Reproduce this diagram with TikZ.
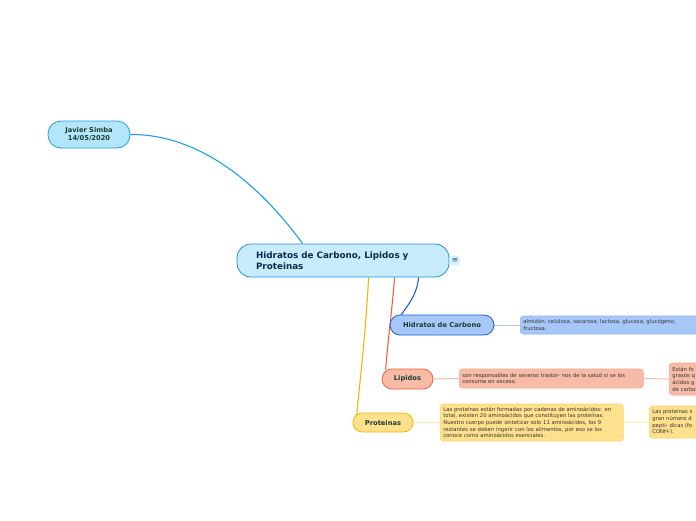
\documentclass[tikz,border=0pt]{standalone}
\usepackage{fontspec}
\setmainfont{DejaVu Sans}
\usepackage{xcolor}
\usetikzlibrary{positioning, calc, backgrounds}
\definecolor{rootfill}{HTML}{C8ECFC}
\definecolor{rootborder}{HTML}{1E8FD8}
\definecolor{roottext}{HTML}{0D2A4A}
\definecolor{jsfill}{HTML}{B3E5FC}
\definecolor{jsborder}{HTML}{1BA1E2}
\definecolor{hcfill}{HTML}{A7C7F9}
\definecolor{hcborder}{HTML}{1E5FD6}
\definecolor{hcsoft}{HTML}{8DB5F2}
\definecolor{lpfill}{HTML}{F8BBA7}
\definecolor{lpborder}{HTML}{F0623E}
\definecolor{lpsoft}{HTML}{F6A88F}
\definecolor{prfill}{HTML}{FFE08C}
\definecolor{prborder}{HTML}{F5B700}
\definecolor{prsoft}{HTML}{FCD46E}
\definecolor{labeltext}{HTML}{1B3D2F}
\definecolor{notetext}{HTML}{333333}
\definecolor{menufill}{HTML}{D6EEFB}
\definecolor{menutext}{HTML}{1A5C96}

\tikzset{
  topic/.style={line width=0.8pt, inner sep=0pt, align=center, text=labeltext,
                font=\fontsize{6.7}{8.5}\selectfont\bfseries},
  note/.style={line width=0.6pt, rounded corners=3pt, anchor=west, align=left,
               inner xsep=3pt, inner ysep=2.5pt, text=notetext,
               font=\fontsize{5.3}{6.7}\selectfont},
  link/.style={line width=1.1pt},
  notelink/.style={line width=1pt}
}

\begin{document}
\begin{tikzpicture}[x=1pt, y=-1pt]
  \useasboundingbox (0,0) rectangle (696,520);
  \clip (0,0) rectangle (696,520);

  % central topic
  \node[topic, fill=rootfill, draw=rootborder, rounded corners=14pt,
        minimum width=212pt, minimum height=33pt, text width=174pt, align=left,
        text=roottext, font=\fontsize{8.8}{11}\selectfont\bfseries] (root) at (343,260.5)
        {Hidratos de Carbono, Lipidos y\\Proteinas};
  \node[fill=menufill, rounded corners=1.5pt, inner sep=0pt, minimum size=9pt, text=menutext,
        font=\fontsize{7.5}{7.5}\selectfont] (menu) at (455,260.5) {≡};

  % main branches
  \node[topic, fill=jsfill, draw=jsborder, rounded corners=13pt,
        minimum width=82pt, minimum height=27pt] (js) at (89,134.5)
        {Javier Simba\\14/05/2020};
  \node[topic, fill=hcfill, draw=hcborder, rounded corners=10pt,
        minimum width=104pt, minimum height=20pt] (hc) at (442,325) {Hidratos de Carbono};
  \node[topic, fill=lpfill, draw=lpborder, rounded corners=10pt,
        minimum width=51pt, minimum height=20pt] (lp) at (407.5,379) {Lipidos};
  \node[topic, fill=prfill, draw=prborder, rounded corners=9.5pt,
        minimum width=60pt, minimum height=19pt] (pr) at (383,422.5) {Proteinas};

  % notes
  \node[note, fill=hcfill, draw=hcsoft, text width=174pt, minimum height=18pt] (hcnote) at (520,325)
        {almidón, celulosa, sacarosa, lactosa, glucosa, glucógeno,\\fructosa.};
  \node[note, fill=lpfill, draw=lpsoft, text width=178pt, minimum height=19pt] (lpnote) at (459,378.5)
        {son responsables de severos trastor- nos de la salud si se los\\consume en exceso.};
  \node[note, fill=lpfill, draw=lpsoft, text width=60pt, minimum height=32pt] (lpmore) at (669,379)
        {Están fo\\grasos q\\ácidos g\\de carbo};
  \node[note, fill=prfill, draw=prsoft, text width=177pt, minimum height=37pt] (prnote) at (440,422.5)
        {Las proteínas están formadas por cadenas de aminoácidos: en\\
         total, existen 20 aminoácidos que constituyen las proteínas.\\
         Nuestro cuerpo puede sintetizar solo 11 aminoácidos, los 9\\
         restantes se deben ingerir con los alimentos, por eso se los\\
         conoce como aminoácidos esenciales.};
  \node[note, fill=prfill, draw=prsoft, text width=60pt, minimum height=32pt] (prmore) at (649,422)
        {Las proteínas s\\gran número d\\pepti- dicas (fo\\CONH-).};

  \begin{scope}[on background layer]
    \draw[link, jsborder] ($(root.north west)+(66,0)$) .. controls (260,185) and (200,134) .. (js.east);
    \draw[link, hcborder] ($(root.south west)+(182,0)$) .. controls (417,295) and (408,305) .. ($(hc.north west)+(11,1)$);
    \draw[link, lpborder] ($(root.south west)+(158,0)$) .. controls (392,310) and (388,340) .. ($(lp.north west)+(4,1)$);
    \draw[link, prborder] ($(root.south west)+(132,0)$) .. controls (366,330) and (360,380) .. ($(pr.north west)+(4,3)$);
    \draw[notelink, hcfill] (hc.east) -- (hcnote.west);
    \draw[notelink, lpfill] (lp.east) -- (lpnote.west);
    \draw[notelink, lpfill] (lpnote.east) -- (lpmore.west);
    \draw[notelink, prfill!70!white] (pr.east) -- (prnote.west);
    \draw[notelink, prfill!70!white] (prnote.east) -- (prmore.west);
  \end{scope}
\end{tikzpicture}
\end{document}
